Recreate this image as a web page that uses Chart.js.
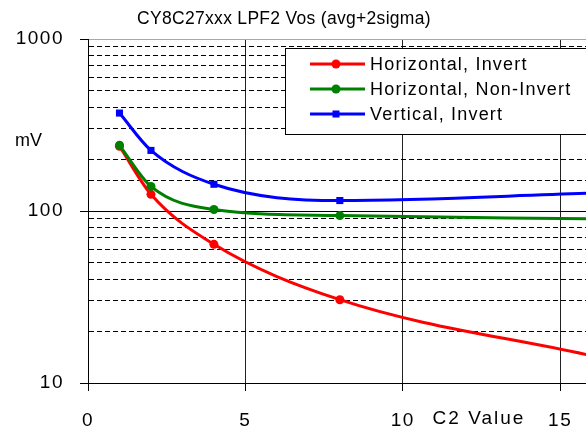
<!DOCTYPE html>
<html>
<head>
<meta charset="utf-8">
<title>CY8C27xxx LPF2 Vos</title>
<script src="https://cdn.jsdelivr.net/npm/chart.js@4.4.0/dist/chart.umd.min.js"></script>
<style>
  html, body { margin: 0; padding: 0; background: #fff; overflow: hidden; }
  #wrap { width: 586px; height: 432px; position: relative; }
</style>
</head>
<body>
<div id="wrap"><canvas id="vosChart"></canvas></div>
<script>
// C2 settings that were measured
const c2Values = [1, 2, 4, 8, 16];

// Vos (avg + 2 sigma) in mV for each configuration
const horizInvert = [238, 125, 64, 30.5, 14.4];
const horizNonInvert = [241, 139, 102, 94, 90];
const vertInvert = [371, 225, 143, 115, 127];

const seriesNames = ['Horizontal, Invert', 'Horizontal, Non-Invert', 'Vertical, Invert'];
const seriesColors = ['#ff0000', '#008000', '#0000ff'];
const seriesMarkers = ['circle', 'circle', 'rect'];

const yTickLabels = [10, 100, 1000];
const xTickLabels = [0, 5, 10, 15];

const FONT = '"Liberation Sans", Arial, sans-serif';

function isMajor(v) {
    return yTickLabels.indexOf(v) !== -1;
}

function makeDataset(i, values, order) {
    return {
        label: seriesNames[i],
        data: c2Values.map((x, k) => ({x: x, y: values[k]})),
        borderColor: seriesColors[i],
        backgroundColor: seriesColors[i],
        borderWidth: 3,
        pointStyle: seriesMarkers[i],
        pointRadius: seriesMarkers[i] === 'rect' ? 5 : 4.5,
        pointBorderWidth: 0,
        cubicInterpolationMode: 'monotone',
        order: order
    };
}

// draws a legend marker like the chart's own points
function drawMarker(ctx, style, x, y) {
    ctx.beginPath();
    if (style === 'rect') {
        ctx.rect(x - 3.5, y - 3.5, 7, 7);
    } else {
        ctx.arc(x, y, 4.5, 0, Math.PI * 2);
    }
    ctx.fill();
}

// title, axis captions and the boxed legend
const decorations = {
    id: 'decorations',
    beforeDraw(chart) {
        chart.ctx.letterSpacing = '1.5px';
    },
    afterDraw(chart) {
        const ctx = chart.ctx;
        const xs = chart.scales.x;
        ctx.save();
        ctx.fillStyle = '#000';
        ctx.textBaseline = 'middle';

        ctx.font = '17.5px ' + FONT;
        ctx.letterSpacing = '0.3px';
        ctx.textAlign = 'center';
        ctx.fillText('CY8C27xxx LPF2 Vos (avg+2sigma)', 284, 19);

        ctx.font = '18px ' + FONT;
        ctx.letterSpacing = '0px';
        ctx.textAlign = 'left';
        ctx.fillText('mV', 15, 141);

        ctx.font = '19px ' + FONT;
        ctx.letterSpacing = '2px';
        ctx.textAlign = 'center';
        ctx.fillText('C2 Value', xs.getPixelForValue(12.42), 419);

        // legend box
        ctx.fillStyle = '#fff';
        ctx.strokeStyle = '#000';
        ctx.lineWidth = 1;
        ctx.fillRect(285.5, 48.5, 320, 86);
        ctx.strokeRect(285.5, 48.5, 320, 86);

        ctx.font = '18px ' + FONT;
        ctx.letterSpacing = '1.2px';
        ctx.textAlign = 'left';
        seriesNames.forEach((name, i) => {
            const y = 64 + i * 25;
            ctx.strokeStyle = seriesColors[i];
            ctx.fillStyle = seriesColors[i];
            ctx.lineWidth = 3;
            ctx.beginPath();
            ctx.moveTo(310, y);
            ctx.lineTo(365, y);
            ctx.stroke();
            drawMarker(ctx, seriesMarkers[i], 336, y);
            ctx.fillStyle = '#000';
            ctx.fillText(name, 370, y + 1);
        });
        ctx.restore();
    }
};

const ctx = document.getElementById('vosChart').getContext('2d');
const vosChart = new Chart(ctx, {
    type: 'line',
    data: {
        datasets: [
            makeDataset(0, horizInvert, 3),
            makeDataset(1, horizNonInvert, 2),
            makeDataset(2, vertInvert, 1)
        ]
    },
    plugins: [decorations],
    options: {
        responsive: true,
        maintainAspectRatio: false,
        animation: false,
        layout: { autoPadding: false, padding: { top: 39, right: 0, left: 0, bottom: 0 } },
        plugins: {
            legend: { display: false },
            title: { display: false },
            tooltip: { enabled: false }
        },
        scales: {
            x: {
                type: 'linear',
                min: 0,
                max: 15.82,
                afterBuildTicks: (scale) => {
                    scale.ticks = xTickLabels.map(v => ({value: v}));
                },
                afterFit: (scale) => {
                    scale.height = 49;
                    // the plot runs right up to the edge, no room kept for labels
                    scale.paddingLeft = 0;
                    scale.paddingRight = 0;
                },
                grid: {
                    color: (c) => (c.tick && c.tick.value === 0) ? 'rgba(0,0,0,0)' : '#222',
                    lineWidth: 1,
                    tickLength: 8,
                    tickColor: '#000'
                },
                border: { color: '#000', width: 1 },
                ticks: {
                    color: '#000',
                    padding: 18,
                    maxRotation: 0,
                    autoSkip: false,
                    font: { family: FONT, size: 19 }
                }
            },
            y: {
                type: 'logarithmic',
                min: 10,
                max: 1000,
                afterFit: (scale) => { scale.width = 88; },
                grid: {
                    color: (c) => {
                        if (!c.tick) return '#000';
                        if (c.tick.value === 1000) return '#b8a0a8';
                        return '#000';
                    },
                    lineWidth: 1,
                    tickLength: 8,
                    tickColor: (c) => (c.tick && isMajor(c.tick.value)) ? '#000' : 'rgba(0,0,0,0)'
                },
                border: {
                    color: '#000',
                    width: 1,
                    dash: (c) => (c.tick && !isMajor(c.tick.value)) ? [5, 3] : []
                },
                ticks: {
                    color: '#000',
                    padding: 16,
                    autoSkip: false,
                    font: { family: FONT, size: 19 },
                    callback: (v) => isMajor(v) ? String(v) : ''
                }
            }
        }
    }
});
</script>
</body>
</html>
